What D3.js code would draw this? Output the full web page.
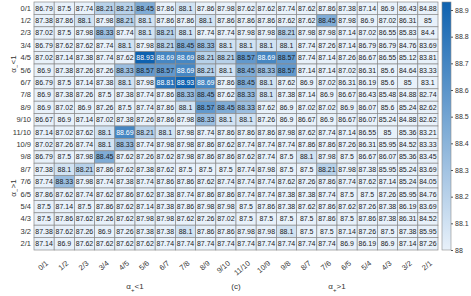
<!DOCTYPE html>
<html>
<head>
<meta charset="utf-8">
<script src="https://cdn.jsdelivr.net/npm/d3@7"></script>
<style>
 body { margin: 0; background: #fff; }
 text { font-family: "Liberation Sans", Arial, sans-serif; }
</style>
</head>
<body>
<script>
// heatmap (c): accuracy for alpha+ (columns) against alpha- (rows)

var xLabels = ["0/1","1/2","2/3","3/4","4/5","5/6","6/7","7/8","8/9","9/10","11/10","10/9","9/8","8/7","7/6","6/5","5/4","4/3","3/2","2/1"];
var yLabels = ["0/1","1/2","2/3","3/4","4/5","5/6","6/7","7/8","8/9","9/10","11/10","10/9","9/8","8/7","7/6","6/5","5/4","4/3","3/2","2/1"];

// one row per y label
var values = [
 [86.79,87.5,87.74,88.21,88.21,88.45,87.86,88.1,87.86,87.98,87.62,87.62,87.74,87.62,87.86,87.38,87.14,86.9,86.43,84.88],
 [87.38,87.86,88.1,87.98,88.21,88.1,87.86,87.86,88.1,87.86,87.86,87.86,87.62,87.62,88.45,87.98,86.9,87.02,86.31,85],
 [87.02,87.5,87.98,88.33,87.74,88.1,88.21,88.1,87.74,87.74,87.98,87.98,88.21,87.98,87.98,87.14,87.02,86.55,85.83,84.4],
 [86.79,87.62,87.62,87.74,88.1,87.98,88.21,88.45,88.33,88.1,88.1,88.1,88.1,87.74,87.26,87.14,86.79,86.79,84.76,83.69],
 [87.02,87.14,87.38,87.74,87.62,88.93,88.69,88.69,88.21,88.21,88.57,88.69,88.57,87.74,87.14,87.26,86.67,86.55,85.12,83.81],
 [86.9,87.38,87.26,87.26,88.33,88.57,88.57,88.69,88.21,88.1,88.45,88.33,88.57,87.14,87.14,87.02,86.31,85.6,84.64,83.33],
 [86.79,87.5,87.14,87.38,88.1,87.98,88.81,88.93,88.69,87.86,88.45,88.1,87.62,86.9,87.02,86.31,86.19,85.6,85,83.1],
 [86.9,87.38,87.26,87.5,87.38,87.74,87.86,88.33,88.45,87.62,88.33,88.1,87.38,87.14,86.9,86.67,86.43,85.48,84.88,82.74],
 [86.9,87.02,86.9,87.26,87.5,87.74,87.86,88.1,88.57,88.45,88.33,87.62,86.9,87.02,87.02,86.9,86.07,85.6,85.24,82.62],
 [86.67,86.9,87.14,87.02,87.38,87.26,87.86,87.98,88.33,88.1,88.1,87.26,86.9,86.67,86.9,86.67,86.07,85.24,84.88,82.62],
 [87.14,87.02,87.62,88.1,88.69,88.21,88.1,87.98,87.74,87.86,87.86,87.86,87.98,87.62,87.74,87.14,86.55,85,85.36,83.21],
 [87.02,87.26,87.74,88.1,88.33,87.74,87.98,87.98,87.86,87.62,87.74,87.74,87.74,87.86,87.86,87.26,86.31,85.95,84.52,83.33],
 [86.79,87.5,87.98,88.45,87.62,87.26,87.62,87.98,87.86,87.86,87.62,87.74,87.5,88.1,87.98,87.5,86.67,86.07,85.36,83.45],
 [87.38,88.1,88.21,87.86,87.62,87.38,87.62,87.5,87.5,87.5,87.74,87.98,87.5,87.5,88.21,87.98,87.38,85.95,85.24,83.69],
 [87.74,88.33,87.98,87.74,87.38,87.74,87.86,87.86,87.62,87.74,87.74,87.74,87.62,87.26,87.86,87.74,87.62,87.14,85.24,84.05],
 [87.86,87.62,87.74,87.62,87.86,87.62,87.38,87.74,87.86,87.86,87.74,87.74,87.38,87.38,87.74,87.5,87.5,87.26,85.95,84.76],
 [87.5,87.14,87.5,87.86,87.62,87.14,87.38,87.86,87.98,87.98,87.5,87.86,87.38,87.62,87.86,87.62,87.26,87.38,86.19,83.69],
 [87.5,87.86,87.62,87.26,87.62,87.98,87.98,87.62,87.26,87.02,87.5,87.5,87.5,87.5,87.86,87.5,87.86,87.38,86.31,84.52],
 [87.38,87.62,87.26,86.9,87.26,87.38,87.38,88.1,87.86,87.86,87.98,87.98,88.1,87.5,87.5,87.14,87.26,87.5,87.38,85.95],
 [87.14,86.9,87.62,87.62,87.62,87.62,87.74,87.74,87.74,87.74,87.74,87.74,87.74,87.74,87.74,86.9,86.19,86.9,87.14,87.26]
];

var colorTicks = [88,88.1,88.2,88.3,88.4,88.5,88.6,88.7,88.8,88.9];
var colorMin = 88, colorMax = 88.93;

var svgW = 471, svgH = 296;
var plotLeft = 34, plotRight = 438, plotTop = 2, plotBottom = 250;

var svg = d3.select("body").append("svg")
 .attr("width", svgW)
 .attr("height", svgH);

var x = d3.scaleBand().domain(xLabels).range([plotLeft, plotRight]);
var y = d3.scaleBand().domain(yLabels).range([plotTop, plotBottom]);
var color = d3.scaleLinear().domain([colorMin, colorMax])
 .range(["#e8f1fa", "#0e62b0"]).clamp(true);

// flatten to cells
var cells = [];
values.forEach(function (row, i) {
 row.forEach(function (v, j) {
  cells.push({ r: yLabels[i], c: xLabels[j], v: v });
 });
});

var g = svg.append("g");
g.selectAll("rect.cell").data(cells).enter().append("rect")
 .attr("class", "cell")
 .attr("x", function (d) { return x(d.c); })
 .attr("y", function (d) { return y(d.r); })
 .attr("width", x.bandwidth())
 .attr("height", y.bandwidth())
 .attr("fill", function (d) { return color(d.v); })
 .attr("stroke", "#8c8c8c")
 .attr("stroke-width", 0.7);

g.selectAll("text.val").data(cells).enter().append("text")
 .attr("class", "val")
 .attr("x", function (d) { return x(d.c) + x.bandwidth() / 2; })
 .attr("y", function (d) { return y(d.r) + y.bandwidth() / 2; })
 .attr("dy", "0.35em")
 .attr("text-anchor", "middle")
 .attr("font-size", 7)
 .attr("fill", function (d) { return d.v >= 88.65 ? "#fff" : "#1a1a1a"; })
 .text(function (d) { return d.v; });

// y axis
var yAxis = svg.append("g")
 .attr("transform", "translate(" + plotLeft + ",0)")
 .call(d3.axisLeft(y).tickSize(0).tickPadding(3));
yAxis.select(".domain").remove();
yAxis.selectAll("text").attr("font-size", 7.5).attr("fill", "#333")
 .style("font-family", "Liberation Sans, Arial, sans-serif");

// x axis, slanted labels
var xAxis = svg.append("g")
 .attr("transform", "translate(0," + plotBottom + ")")
 .call(d3.axisBottom(x).tickSize(0).tickPadding(0));
xAxis.select(".domain").remove();
xAxis.selectAll("text")
 .attr("font-size", 7.5).attr("fill", "#333")
 .style("font-family", "Liberation Sans, Arial, sans-serif")
 .attr("text-anchor", "end")
 .attr("dy", "0.35em")
 .attr("transform", function () { return "translate(3,12) rotate(-40)"; });

// axis titles
function alphaLabel(sel, sub, rest) {
 sel.append("tspan").text("α");
 sel.append("tspan").attr("font-size", 6).attr("dy", 2.5).text(sub);
 sel.append("tspan").attr("dy", -2.5).text(rest);
}

var midLow = (x(xLabels[0]) + x(xLabels[9]) + x.bandwidth()) / 2;
var midHigh = (x(xLabels[10]) + x(xLabels[19]) + x.bandwidth()) / 2;

alphaLabel(svg.append("text").attr("x", midLow).attr("y", 289)
 .attr("text-anchor", "middle").attr("font-size", 8).attr("fill", "#333"), "+", "<1");
alphaLabel(svg.append("text").attr("x", midHigh).attr("y", 289)
 .attr("text-anchor", "middle").attr("font-size", 8).attr("fill", "#333"), "+", ">1");
svg.append("text").attr("x", (plotLeft + plotRight) / 2).attr("y", 289)
 .attr("text-anchor", "middle").attr("font-size", 8).attr("fill", "#333").text("(c)");

var rowMidLow = (y(yLabels[0]) + y(yLabels[9]) + y.bandwidth()) / 2;
var rowMidHigh = (y(yLabels[10]) + y(yLabels[19]) + y.bandwidth()) / 2;
alphaLabel(svg.append("text").attr("transform", "translate(16," + rowMidLow + ") rotate(-90)")
 .attr("text-anchor", "middle").attr("font-size", 8).attr("fill", "#333"), "−", "<1");
alphaLabel(svg.append("text").attr("transform", "translate(16," + rowMidHigh + ") rotate(-90)")
 .attr("text-anchor", "middle").attr("font-size", 8).attr("fill", "#333"), "−", ">1");

// colorbar
var cbX = 442, cbW = 9;
var cbScale = d3.scaleLinear().domain([colorMin, colorMax]).range([plotBottom, plotTop]);
var defs = svg.append("defs");
var grad = defs.append("linearGradient").attr("id", "cb")
 .attr("x1", 0).attr("y1", 1).attr("x2", 0).attr("y2", 0);
d3.range(0, 1.01, 0.1).forEach(function (t) {
 grad.append("stop").attr("offset", t)
  .attr("stop-color", color(colorMin + t * (colorMax - colorMin)));
});
svg.append("rect")
 .attr("x", cbX).attr("y", plotTop)
 .attr("width", cbW).attr("height", plotBottom - plotTop)
 .attr("fill", "url(#cb)")
 .attr("stroke", "#8c8c8c").attr("stroke-width", 0.6);

var cbAxis = svg.append("g")
 .attr("transform", "translate(" + (cbX + cbW) + ",0)")
 .call(d3.axisRight(cbScale).tickValues(colorTicks).tickSize(2).tickPadding(2)
  .tickFormat(function (d) { return d3.format("")(+d.toFixed(1)); }));
cbAxis.select(".domain").remove();
cbAxis.selectAll("line").attr("stroke", "#555");
cbAxis.selectAll("text").attr("font-size", 7).attr("fill", "#333")
 .style("font-family", "Liberation Sans, Arial, sans-serif");
</script>
</body>
</html>
